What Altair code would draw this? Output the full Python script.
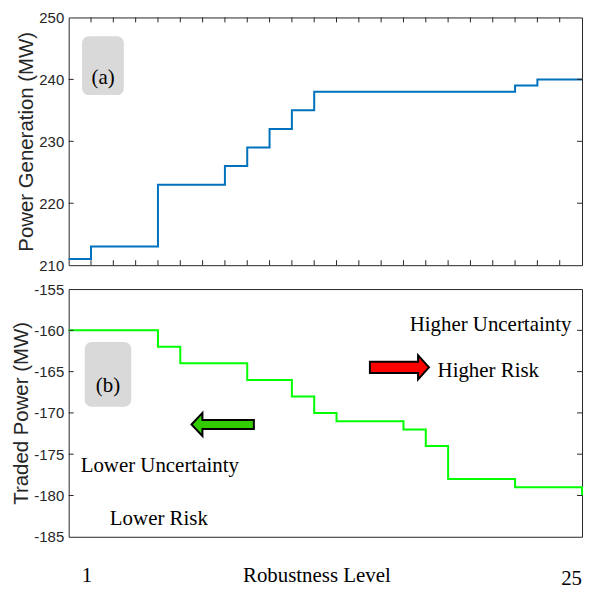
import altair as alt
import pandas as pd

# ---- data -------------------------------------------------------------
levels = list(range(1, 25))
power_generation = [211, 213, 213, 213, 223, 223, 223, 226, 229, 232, 235,
                    238, 238, 238, 238, 238, 238, 238, 238, 238, 239, 240, 240, 240]
traded_power = [-160, -160, -160, -160, -162, -164, -164, -164, -166, -166, -168,
                -170, -171, -171, -171, -172, -174, -178, -178, -178, -179, -179, -179, -180]

gen_ticks = [210, 220, 230, 240, 250]
trade_ticks = [-185, -180, -175, -170, -165, -160, -155]
x_tick_levels = list(range(2, 24))

# annotations (data coordinates)
box_a = {"x": [1.60], "x2": [3.47], "y": [237.46], "y2": [246.95]}
label_a = {"x": [2.54], "y": [240.2], "t": ["(a)"]}
box_b = {"x": [1.72], "x2": [3.80], "y": [-169.24], "y2": [-161.41]}
label_b = {"x": [2.76], "y": [-166.8], "t": ["(b)"]}
notes_x = [5.08, 5.04, 19.90, 19.80]
notes_y = [-176.46, -182.87, -159.4, -164.9]
notes_t = ["Lower Uncertainty", "Lower Risk", "Higher Uncertainty", "Higher Risk"]
arrow_left = {"x": [7.90], "y": [-171.4]}
arrow_right = {"x": [15.82], "y": [-164.48]}
bottom_x = [1.82, 12.12, 24.0]
bottom_t = ["1", "Robustness Level", "25"]
bottom_align = ["center", "center", "right"]
bottom_yoff = [294, 294, 297]

W, H1, H2 = 516, 249, 249
SERIF = "Liberation Serif"
SANS = "Liberation Sans"
DARK = "#262626"

xs = alt.Scale(domain=[1, 24], nice=False, zero=False)
ys1 = alt.Scale(domain=[210, 250], nice=False, zero=False)
ys2 = alt.Scale(domain=[-185, -155], nice=False, zero=False)
ax1 = alt.Axis(values=gen_ticks, title="Power Generation (MW)", labelExpr="toString(datum.value)")
ax2 = alt.Axis(values=trade_ticks, title="Traded Power (MW)", labelExpr="toString(datum.value)")

LEFT_ARROW = "M -1 0 L -0.65 -0.37 L -0.65 -0.144 L 1 -0.144 L 1 0.144 L -0.65 0.144 L -0.65 0.37 Z"
RIGHT_ARROW = "M 1 0 L 0.63 -0.41 L 0.63 -0.19 L -1 -0.19 L -1 0.19 L 0.63 0.19 L 0.63 0.41 Z"


def frame_ticks(yscale, yaxis, yvals, xticks=True):
    layers = []
    yt = pd.DataFrame({"v": yvals[1:-1]})
    for xa, xb in [(0, 5), (W, W - 5)]:
        layers.append(alt.Chart(yt).mark_rule(color=DARK, strokeWidth=1).encode(
            y=alt.Y("v:Q", scale=yscale, axis=yaxis), x=alt.value(xa), x2=alt.value(xb)))
    if xticks:
        xt = pd.DataFrame({"level": x_tick_levels})
        for ya, yb in [(0, 5), (H1, H1 - 5)]:
            layers.append(alt.Chart(xt).mark_rule(color=DARK, strokeWidth=1).encode(
                x=alt.X("level:Q", scale=xs, axis=None), y=alt.value(ya), y2=alt.value(yb)))
    return layers


# ---- top panel ----------------------------------------------------------
df1 = pd.DataFrame({"level": levels, "value": power_generation})
line1 = alt.Chart(df1).mark_line(interpolate="step-after", color="#0072BD", strokeWidth=2).encode(
    x=alt.X("level:Q", scale=xs, axis=None),
    y=alt.Y("value:Q", scale=ys1, axis=ax1))
boxa = alt.Chart(pd.DataFrame(box_a)).mark_rect(cornerRadius=7, color="#d9d9d9").encode(
    x=alt.X("x:Q", scale=xs, axis=None), x2="x2:Q",
    y=alt.Y("y:Q", scale=ys1, axis=ax1), y2="y2:Q")
texta = alt.Chart(pd.DataFrame(label_a)).mark_text(font=SERIF, fontSize=21, color="#000000",
                                                  baseline="middle").encode(
    x=alt.X("x:Q", scale=xs, axis=None), y=alt.Y("y:Q", scale=ys1, axis=ax1), text="t:N")
top = alt.layer(line1, boxa, texta, *frame_ticks(ys1, ax1, gen_ticks, True)).properties(
    width=W, height=H1)

# ---- bottom panel -------------------------------------------------------
df2 = pd.DataFrame({"level": levels, "value": traded_power})
line2 = alt.Chart(df2).mark_line(interpolate="step-after", color="#00FF00", strokeWidth=2).encode(
    x=alt.X("level:Q", scale=xs, axis=None),
    y=alt.Y("value:Q", scale=ys2, axis=ax2))
boxb = alt.Chart(pd.DataFrame(box_b)).mark_rect(cornerRadius=7, color="#d9d9d9").encode(
    x=alt.X("x:Q", scale=xs, axis=None), x2="x2:Q",
    y=alt.Y("y:Q", scale=ys2, axis=ax2), y2="y2:Q")
textb = alt.Chart(pd.DataFrame(label_b)).mark_text(font=SERIF, fontSize=21, color="#000000",
                                                  baseline="middle").encode(
    x=alt.X("x:Q", scale=xs, axis=None), y=alt.Y("y:Q", scale=ys2, axis=ax2), text="t:N")
notes = alt.Chart(pd.DataFrame({"x": notes_x, "y": notes_y, "t": notes_t})).mark_text(
    font=SERIF, fontSize=21, color="#000000", baseline="middle").encode(
    x=alt.X("x:Q", scale=xs, axis=None), y=alt.Y("y:Q", scale=ys2, axis=ax2), text="t:N")
arrow_g = alt.Chart(pd.DataFrame(arrow_left)).mark_point(
    shape=LEFT_ARROW, size=62.7 ** 2, filled=True, fill="#33CC00", stroke="#000000",
    strokeWidth=2, opacity=1).encode(
    x=alt.X("x:Q", scale=xs, axis=None), y=alt.Y("y:Q", scale=ys2, axis=ax2))
arrow_r = alt.Chart(pd.DataFrame(arrow_right)).mark_point(
    shape=RIGHT_ARROW, size=59.4 ** 2, filled=True, fill="#FF0000", stroke="#000000",
    strokeWidth=2, opacity=1).encode(
    x=alt.X("x:Q", scale=xs, axis=None), y=alt.Y("y:Q", scale=ys2, axis=ax2))
bottom_txt = [
    alt.Chart(pd.DataFrame({"x": [bx], "t": [bt]})).mark_text(
        font=SERIF, fontSize=21, color="#000000", baseline="alphabetic", align=ba).encode(
        x=alt.X("x:Q", scale=xs, axis=None), y=alt.value(by), text="t:N")
    for bx, bt, by, ba in zip(bottom_x, bottom_t, bottom_yoff, bottom_align)
]
bottom = alt.layer(line2, boxb, textb, notes, arrow_g, arrow_r, *bottom_txt,
                   *frame_ticks(ys2, ax2, trade_ticks, False)).properties(width=W, height=H2)

chart = alt.vconcat(top, bottom, spacing=7).properties(
    padding={"left": 3, "top": 0, "right": 0, "bottom": 0}, background="white"
).configure_view(stroke=DARK, strokeWidth=1).configure_axis(
    domain=False, ticks=False, grid=False,
    labelFont=SANS, labelFontSize=15, labelColor=DARK, labelPadding=5,
    titleFont=SANS, titleFontSize=20.5, titleFontWeight="normal", titleColor=DARK, titlePadding=2,
)

chart.save("out.html", embed_options={"renderer": "svg", "actions": False})
